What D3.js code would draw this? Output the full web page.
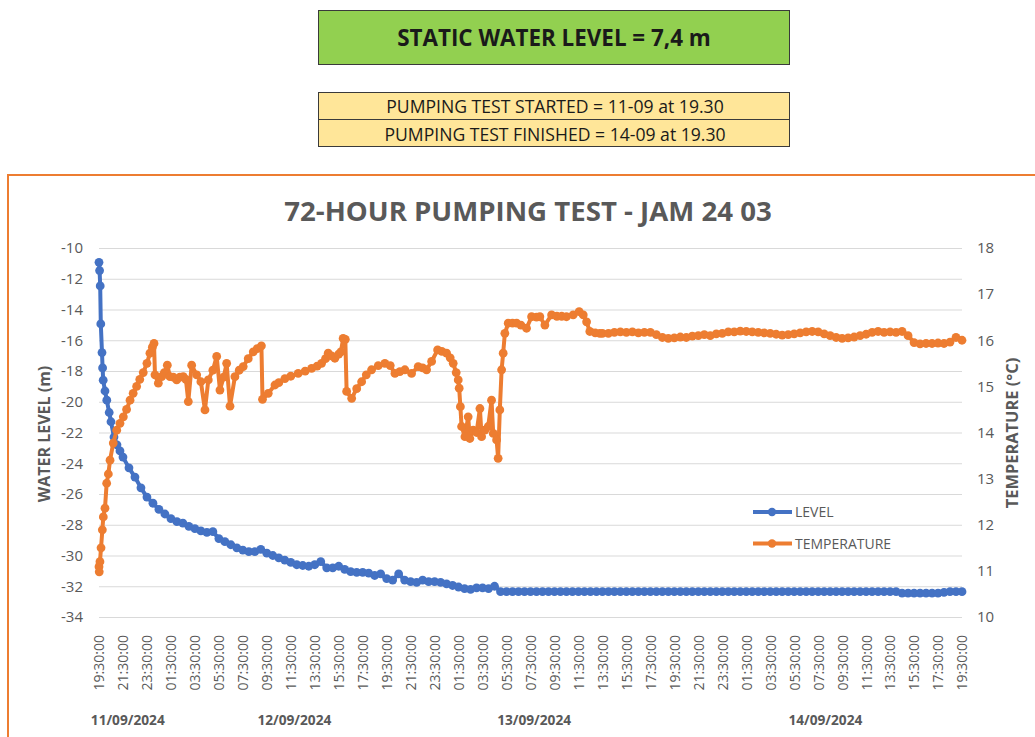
<!DOCTYPE html>
<html>
<head>
<meta charset="utf-8">
<script src="https://cdn.jsdelivr.net/npm/d3@7"></script>
<style>
  body { margin: 0; background: #fff; }
  text { font-family: "Open Sans", "Liberation Sans", sans-serif; }
</style>
</head>
<body>
<svg width="1035" height="737"></svg>
<script>
// elapsed hours since 11/09/2024 19:30 -> water level (m)
const levelHours = [0,0.05,0.1,0.15,0.25,0.3,0.35,0.5,0.65,0.85,1,1.25,1.5,1.75,2,2.5,3,3.5,4,4.5,5,5.5,6,6.5,7,7.5,8,8.5,9,9.5,
  10,10.5,11,11.5,12,12.5,13,13.5,14,14.5,15,15.5,16,16.5,17,17.5,18,18.5,19,19.5,20,20.5,21,21.5,22,22.5,23,23.5,24,24.5,
  25,25.5,26,26.5,27,27.5,28,28.5,29,29.5,30,30.5,31,31.5,32,32.5,33,33.5,34,34.5,35,35.5,36,36.5,37,37.5,38,38.5,39,39.5,
  40,40.5,41,41.5,42,42.5,43,43.5,44,44.5,45,45.5,46,46.5,47,47.5,48,48.5,49,49.5,50,50.5,51,51.5,52,52.5,53,53.5,54,54.5,
  55,55.5,56,56.5,57,57.5,58,58.5,59,59.5,60,60.5,61,61.5,62,62.5,63,63.5,64,64.5,65,65.5,66,66.5,67,67.5,68,68.5,69,69.5,
  70,70.5,71,71.5,72];
const levelValues = [-10.93,-11.47,-12.47,-14.94,-16.8,-17.8,-18.6,-19.3,-19.9,-20.7,-21.3,-22.3,-22.8,-23.2,-23.6,-24.3,-24.9,-25.6,-26.2,-26.6,
  -27.0,-27.3,-27.6,-27.8,-27.9,-28.1,-28.25,-28.4,-28.5,-28.45,-28.9,-29.1,-29.3,-29.5,-29.65,-29.75,-29.75,-29.6,-29.85,-30.0,
  -30.15,-30.3,-30.45,-30.6,-30.65,-30.7,-30.6,-30.4,-30.8,-30.8,-30.7,-30.9,-31.05,-31.1,-31.1,-31.15,-31.3,-31.2,-31.5,-31.6,
  -31.2,-31.6,-31.7,-31.75,-31.6,-31.7,-31.7,-31.75,-31.85,-31.95,-32.05,-32.15,-32.2,-32.1,-32.1,-32.15,-32.0,-32.35,-32.35,-32.35,
  -32.35,-32.35,-32.35,-32.35,-32.35,-32.35,-32.35,-32.35,-32.35,-32.35,-32.35,-32.35,-32.35,-32.35,-32.35,-32.35,-32.35,-32.35,-32.35,-32.35,
  -32.35,-32.35,-32.35,-32.35,-32.35,-32.35,-32.35,-32.35,-32.35,-32.35,-32.35,-32.35,-32.35,-32.35,-32.35,-32.35,-32.35,-32.35,-32.35,-32.35,
  -32.35,-32.35,-32.35,-32.35,-32.35,-32.35,-32.35,-32.35,-32.35,-32.35,-32.35,-32.35,-32.35,-32.35,-32.35,-32.35,-32.35,-32.35,-32.35,-32.35,
  -32.35,-32.35,-32.35,-32.35,-32.45,-32.45,-32.45,-32.45,-32.45,-32.45,-32.45,-32.4,-32.35,-32.35,-32.35];

// elapsed hours -> temperature (°C)
const tempHours = [0,0.02,0.08,0.17,0.28,0.36,0.5,0.64,0.78,0.92,1.19,1.48,1.75,2.03,2.3,2.59,2.85,3.14,3.4,3.69,
  4.0,4.25,4.45,4.59,4.67,4.95,5.23,5.45,5.7,5.92,6.2,6.48,6.75,7.03,7.25,7.45,7.73,8.15,8.5,8.84,
  9.12,9.5,9.82,10.09,10.4,10.65,10.93,11.34,11.7,12.03,12.45,12.87,13.2,13.55,13.64,14.12,14.68,15.0,15.51,16.0,
  16.62,17.2,17.74,18.2,18.57,18.9,19.12,19.4,19.68,20.0,20.18,20.37,20.55,20.66,21.08,21.5,21.91,22.3,22.74,23.3,
  23.85,24.3,24.69,25.1,25.52,26.08,26.63,27.0,27.33,27.75,28.25,28.6,29.0,29.3,29.55,29.8,29.97,30.05,30.15,30.25,
  30.53,30.8,30.94,31.22,31.5,31.78,31.92,32.19,32.47,32.75,32.89,33.17,33.3,33.44,33.59,33.72,33.86,34.14,34.5,34.84,
  35.2,35.67,36.09,36.5,36.78,37.2,37.76,38.2,38.6,39.0,39.56,40.06,40.4,40.68,40.95,41.4,41.78,42,42.5,43,
  43.5,44,44.5,45,45.5,46,46.5,47,47.5,48,48.5,49,49.5,50,50.5,51,51.5,52,52.5,53,
  53.5,54,54.5,55,55.5,56,56.5,57,57.5,58,58.5,59,59.5,60,60.5,61,61.5,62,62.5,63,
  63.5,64,64.5,65,65.5,66,66.5,67,67.5,68,68.5,69,69.5,70,70.5,71,71.5,72];
const tempValues = [11.09,10.98,11.2,11.5,11.89,12.17,12.36,12.9,13.1,13.4,13.77,14.05,14.2,14.34,14.5,14.7,14.85,15.0,15.15,15.3,
  15.5,15.72,15.85,15.93,15.25,15.07,15.21,15.3,15.46,15.21,15.2,15.14,15.2,15.21,15.15,14.67,15.46,15.25,15.1,14.49,
  15.14,15.35,15.65,14.92,15.2,15.5,14.57,15.21,15.35,15.43,15.6,15.75,15.82,15.88,14.72,14.85,15.03,15.08,15.17,15.22,
  15.28,15.33,15.39,15.44,15.5,15.6,15.72,15.66,15.61,15.7,15.75,16.04,16.02,14.89,14.74,14.95,15.1,15.25,15.36,15.45,
  15.5,15.45,15.28,15.32,15.36,15.28,15.43,15.4,15.36,15.54,15.79,15.76,15.72,15.62,15.5,15.3,15.14,14.96,14.56,14.13,
  13.91,14.34,13.87,14.05,14.0,14.52,13.91,14.05,14.13,14.7,13.98,13.84,13.44,14.49,15.36,15.72,16.15,16.37,16.37,16.37,
  16.33,16.26,16.51,16.5,16.51,16.33,16.55,16.52,16.52,16.51,16.55,16.62,16.55,16.4,16.19,16.16,16.15,16.15,16.15,16.17,
  16.18,16.17,16.18,16.16,16.17,16.17,16.12,16.06,16.04,16.05,16.07,16.06,16.09,16.1,16.12,16.1,16.14,16.15,16.18,16.18,
  16.2,16.19,16.18,16.17,16.16,16.15,16.13,16.11,16.12,16.14,16.16,16.18,16.19,16.18,16.14,16.1,16.06,16.04,16.05,16.07,
  16.1,16.13,16.17,16.19,16.17,16.18,16.17,16.19,16.1,15.95,15.92,15.93,15.93,15.94,15.93,15.96,16.06,16.0];

const tickLabels = ["19:30:00","21:30:00","23:30:00","01:30:00","03:30:00","05:30:00","07:30:00","09:30:00","11:30:00","13:30:00",
  "15:30:00","17:30:00","19:30:00","21:30:00","23:30:00","01:30:00","03:30:00","05:30:00","07:30:00","09:30:00",
  "11:30:00","13:30:00","15:30:00","17:30:00","19:30:00","21:30:00","23:30:00","01:30:00","03:30:00","05:30:00",
  "07:30:00","09:30:00","11:30:00","13:30:00","15:30:00","17:30:00","19:30:00"];
const dateLabels = ["11/09/2024","12/09/2024","13/09/2024","14/09/2024"];
const dateHours = [2.4, 16.3, 36.3, 60.6];
const levelTicks = [-10,-12,-14,-16,-18,-20,-22,-24,-26,-28,-30,-32,-34];
const tempTicks = [10,11,12,13,14,15,16,17,18];
const seriesNames = ["LEVEL","TEMPERATURE"];

const blue = "#4472C4", orange = "#ED7D31", grey = "#595959";

const svg = d3.select("svg");

// header boxes
svg.append("rect").attr("x", 318.5).attr("y", 10.5).attr("width", 471).attr("height", 54)
    .attr("fill", "#92D050").attr("stroke", "#3a3a3a");
svg.append("text").attr("x", 554).attr("y", 46).attr("text-anchor", "middle")
    .attr("font-size", 22.4).attr("font-weight", "bold").attr("fill", "#1a1a1a")
    .text("STATIC WATER LEVEL = 7,4 m");

["PUMPING TEST STARTED = 11-09 at 19.30", "PUMPING TEST FINISHED = 14-09 at 19.30"].forEach(function(t, i) {
  svg.append("rect").attr("x", 318.5).attr("y", 92.5 + i * 27).attr("width", 471).attr("height", 27)
      .attr("fill", "#FFE699").attr("stroke", "#3a3a3a");
  svg.append("text").attr("x", 555).attr("y", 112.5 + i * 28).attr("text-anchor", "middle")
      .attr("font-size", 17.6).attr("fill", "#1a1a1a").text(t);
});

// chart area frame
svg.append("rect").attr("x", 8).attr("y", 175).attr("width", 1040).attr("height", 600)
    .attr("fill", "#fff").attr("stroke", orange).attr("stroke-width", 2);

svg.append("text").attr("x", 528).attr("y", 221).attr("text-anchor", "middle")
    .attr("font-size", 27.6).attr("font-weight", "bold").attr("fill", grey)
    .text("72-HOUR PUMPING TEST - JAM 24 03");

var margin = {top: 248, left: 99},
    width = 863,
    height = 369,
    g = svg.append("g").attr("transform", "translate(" + margin.left + "," + margin.top + ")");

var x = d3.scaleLinear().domain([0, 72]).range([0, width]);
var yL = d3.scaleLinear().domain([-34, -10]).range([height, 0]);
var yT = d3.scaleLinear().domain([10, 18]).range([height, 0]);

// gridlines
g.append("g")
    .call(d3.axisLeft(yL).tickValues(levelTicks).tickSize(-width).tickFormat(""))
    .call(function(a) { a.select(".domain").remove(); })
    .selectAll("line").attr("stroke", "#d9d9d9");

g.append("g")
    .call(d3.axisLeft(yL).tickValues(levelTicks).tickSize(0).tickPadding(16)
      .tickFormat(function(d) { return String(d); }))
    .call(function(a) { a.select(".domain").remove(); })
    .selectAll("text").attr("font-size", 15).attr("fill", grey).style("font-family", "Open Sans");

g.append("g")
    .attr("transform", "translate(" + width + ",0)")
    .call(d3.axisRight(yT).tickValues(tempTicks).tickSize(0).tickPadding(15))
    .call(function(a) { a.select(".domain").remove(); })
    .selectAll("text").attr("font-size", 15).attr("fill", grey).style("font-family", "Open Sans");

g.append("g")
    .attr("transform", "translate(0," + height + ")")
    .call(d3.axisBottom(x).tickValues(d3.range(0, 73, 2)).tickSize(0)
      .tickFormat(function(d, i) { return tickLabels[i]; }))
    .call(function(a) { a.select(".domain").remove(); })
    .selectAll("text")
      .attr("transform", "rotate(-90)")
      .attr("x", -18).attr("y", 0).attr("dy", "0.35em")
      .attr("text-anchor", "end")
      .attr("font-size", 14).attr("fill", grey).style("font-family", "Open Sans");

g.selectAll(".date").data(dateLabels).enter().append("text")
    .attr("x", function(d, i) { return x(dateHours[i]); })
    .attr("y", 477)
    .attr("text-anchor", "middle")
    .attr("font-size", 13.7).attr("font-weight", "bold").attr("fill", grey)
    .text(function(d) { return d; });

// axis titles
svg.append("text").attr("transform", "translate(50,434) rotate(-90)").attr("text-anchor", "middle")
    .attr("font-size", 16).attr("font-weight", "bold").attr("fill", grey).text("WATER LEVEL (m)");
svg.append("text").attr("transform", "translate(1018,433) rotate(-90)").attr("text-anchor", "middle")
    .attr("font-size", 16.4).attr("font-weight", "bold").attr("fill", grey).text("TEMPERATURE (°C)");

// series
var level = levelHours.map(function(h, i) { return {h: h, v: levelValues[i]}; });
var temp = tempHours.map(function(h, i) { return {h: h, v: tempValues[i]}; });

function drawSeries(data, y, color) {
  var line = d3.line()
      .x(function(d) { return x(d.h); })
      .y(function(d) { return y(d.v); });
  g.append("path")
      .datum(data)
      .attr("fill", "none")
      .attr("stroke", color)
      .attr("stroke-width", 4)
      .attr("stroke-linejoin", "round")
      .attr("d", line);
  g.append("g").selectAll("circle").data(data).enter().append("circle")
      .attr("cx", function(d) { return x(d.h); })
      .attr("cy", function(d) { return y(d.v); })
      .attr("r", 4.4)
      .attr("fill", color);
}
drawSeries(level, yL, blue);
drawSeries(temp, yT, orange);

// legend
var legend = svg.append("g");
[blue, orange].forEach(function(c, i) {
  var ly = 512 + i * 31.5;
  legend.append("line").attr("x1", 753).attr("x2", 792).attr("y1", ly).attr("y2", ly)
      .attr("stroke", c).attr("stroke-width", 4);
  legend.append("circle").attr("cx", 772).attr("cy", ly).attr("r", 4.2).attr("fill", c);
  legend.append("text").attr("x", 795).attr("y", ly + 5).attr("font-size", 14).attr("fill", grey)
      .text(seriesNames[i]);
});
</script>
</body>
</html>
